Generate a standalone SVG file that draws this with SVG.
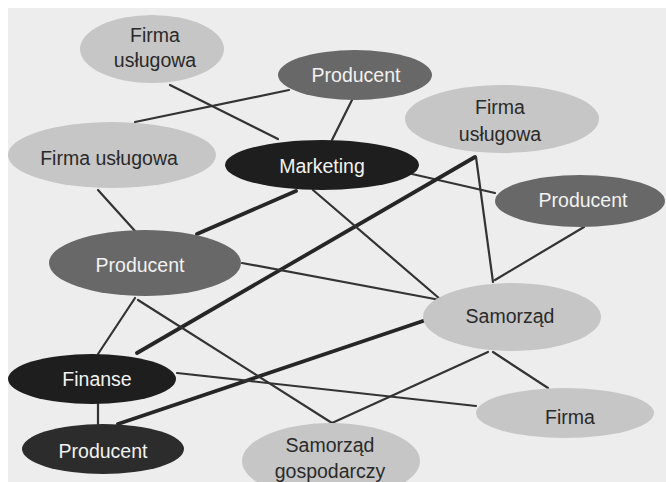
<svg xmlns="http://www.w3.org/2000/svg" width="666" height="482" viewBox="0 0 666 482">
<style>
.bg{fill:#ededed}
.c{stroke:#333;stroke-width:2.2;fill:none;stroke-linecap:round}
.k{stroke:#262626;stroke-width:3.8;fill:none;stroke-linecap:round}
.lt{fill:#c6c6c6}
.md{fill:#686868}
.dk{fill:#1e1e1e}
.dk2{fill:#2c2c2c}
text{font-family:"Liberation Sans",Arial,sans-serif;font-size:19.5px;text-anchor:middle}
.tl{fill:#2a2a2a}
.tw{fill:#f2f2f2}
</style>
<rect width="666" height="482" fill="#fff"/>
<rect class="bg" x="8" y="8" width="658" height="474"/>
<g id="connectors">
<line class="c" x1="170" y1="85" x2="278" y2="139"/>
<line class="c" x1="289" y1="90" x2="135" y2="122"/>
<line class="c" x1="98" y1="190" x2="135" y2="231"/>
<line class="k" x1="296" y1="191" x2="197" y2="234"/>
<line class="c" x1="352" y1="100" x2="332" y2="140"/>
<line class="c" x1="412" y1="174" x2="495" y2="193"/>
<line class="k" x1="475" y1="157" x2="137" y2="353"/>
<line class="c" x1="476" y1="157" x2="493" y2="282"/>
<line class="c" x1="584" y1="227" x2="495" y2="280"/>
<line class="c" x1="313" y1="190" x2="440" y2="299"/>
<line class="c" x1="242" y1="263" x2="440" y2="300"/>
<line class="k" x1="118" y1="424" x2="423" y2="321"/>
<line class="c" x1="135" y1="298" x2="98" y2="354"/>
<line class="c" x1="138" y1="300" x2="332" y2="423"/>
<line class="c" x1="177" y1="373" x2="476" y2="406"/>
<line class="c" x1="332" y1="423" x2="488" y2="352"/>
<line class="c" x1="493" y1="352" x2="548" y2="388"/>
<line class="c" x1="98" y1="404" x2="98" y2="424"/>
</g>
<g id="firma-uslugowa-1"><ellipse class="lt" cx="152" cy="49" rx="72" ry="34"/><text class="tl" x="155" y="42">Firma</text><text class="tl" x="155" y="67">usługowa</text></g>
<g id="producent-1"><ellipse class="md" cx="355" cy="75" rx="77" ry="25"/><text class="tw" x="356" y="82">Producent</text></g>
<g id="firma-uslugowa-2"><ellipse class="lt" cx="502" cy="119" rx="97" ry="34"/><text class="tl" x="500" y="114">Firma</text><text class="tl" x="500" y="141">usługowa</text></g>
<g id="firma-uslugowa-3"><ellipse class="lt" cx="112" cy="155" rx="104" ry="33"/><text class="tl" x="109" y="165">Firma usługowa</text></g>
<g id="marketing"><ellipse class="dk" cx="322" cy="165" rx="97" ry="25"/><text class="tw" x="322" y="173">Marketing</text></g>
<g id="producent-2"><ellipse class="md" cx="580" cy="201" rx="85" ry="26"/><text class="tw" x="583" y="207">Producent</text></g>
<g id="producent-3"><ellipse class="md" cx="145" cy="263" rx="96" ry="33"/><text class="tw" x="140" y="272">Producent</text></g>
<g id="samorzad"><ellipse class="lt" cx="512" cy="317" rx="89" ry="34"/><text class="tl" x="510" y="323">Samorząd</text></g>
<g id="finanse"><ellipse class="dk" cx="92" cy="379" rx="84" ry="25"/><text class="tw" x="97" y="386">Finanse</text></g>
<g id="producent-4"><ellipse class="dk2" cx="103" cy="449" rx="81" ry="25"/><text class="tw" x="103" y="458">Producent</text></g>
<g id="samorzad-gospodarczy"><ellipse class="lt" cx="331" cy="461" rx="89" ry="38"/><text class="tl" x="330" y="452">Samorząd</text><text class="tl" x="330" y="478">gospodarczy</text></g>
<g id="firma"><ellipse class="lt" cx="565" cy="413" rx="89" ry="25"/><text class="tl" x="570" y="424">Firma</text></g>
</svg>
